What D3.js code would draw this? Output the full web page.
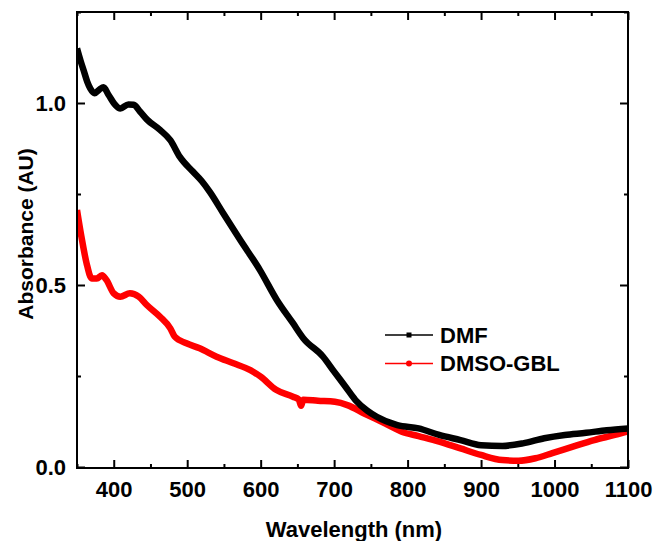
<!DOCTYPE html>
<html>
<head>
<meta charset="utf-8">
<script src="https://cdn.jsdelivr.net/npm/d3@7"></script>
<style>
  html, body { margin: 0; padding: 0; background: #fff; }
  svg { display: block; }
  text { font-family: "Liberation Sans", Arial, sans-serif; font-weight: bold; fill: #000; }
</style>
</head>
<body>
<svg id="chart" width="656" height="541"></svg>
<script>
// Absorption spectra of films cast from two solvents
const dmfWavelength = [350, 355, 359, 364, 368, 374, 381, 386, 393, 402, 409, 420, 427, 436, 445, 463, 477, 490, 508, 520, 531, 549, 572, 599, 622, 644, 658, 685, 700, 715, 729, 745, 758, 786, 815, 843, 872, 900, 929, 957, 986, 1014, 1043, 1071, 1100];
const dmfAbsorbance = [1.150, 1.115, 1.090, 1.058, 1.040, 1.027, 1.038, 1.043, 1.022, 0.995, 0.985, 0.996, 0.995, 0.976, 0.955, 0.926, 0.898, 0.852, 0.811, 0.785, 0.755, 0.697, 0.624, 0.541, 0.459, 0.395, 0.354, 0.303, 0.262, 0.222, 0.184, 0.155, 0.138, 0.115, 0.106, 0.088, 0.074, 0.060, 0.058, 0.065, 0.079, 0.088, 0.094, 0.101, 0.106];

const gblWavelength = [350, 356, 363, 370, 377, 384, 390, 400, 409, 422, 434, 445, 463, 477, 483, 499, 517, 540, 563, 586, 600, 621, 644, 652, 655, 658, 678, 701, 718, 741, 769, 792, 815, 843, 872, 900, 929, 951, 974, 997, 1025, 1054, 1082, 1100];
const gblAbsorbance = [0.706, 0.633, 0.560, 0.518, 0.518, 0.527, 0.514, 0.477, 0.468, 0.477, 0.468, 0.445, 0.413, 0.381, 0.358, 0.340, 0.326, 0.303, 0.285, 0.266, 0.248, 0.212, 0.193, 0.185, 0.168, 0.185, 0.182, 0.179, 0.170, 0.147, 0.120, 0.097, 0.085, 0.070, 0.051, 0.033, 0.019, 0.017, 0.024, 0.038, 0.056, 0.074, 0.088, 0.098];

const seriesNames = ["DMF", "DMSO-GBL"];
const seriesColors = ["#000000", "#ff0000"];

const xMajorTicks = [400, 500, 600, 700, 800, 900, 1000, 1100];
const xMinorTicks = [350, 450, 550, 650, 750, 850, 950, 1050];
const yMajorTicks = [0.0, 0.5, 1.0];
const yMinorTicks = [0.25, 0.75, 1.25];

const xLabel = "Wavelength (nm)";
const yLabel = "Absorbance (AU)";

const plotLeft = 77, plotRight = 628, plotTop = 12, plotBottom = 468;

const svg = d3.select("#chart");
const x = d3.scaleLinear().domain([350, 1100]).range([plotLeft, plotRight]);
const y = d3.scaleLinear().domain([0, 1.25]).range([plotBottom - 1, plotTop]);

svg.append("defs").append("clipPath").attr("id", "plotClip")
  .append("rect").attr("x", plotLeft).attr("y", plotTop)
  .attr("width", plotRight - plotLeft).attr("height", plotBottom - plotTop);

// spectra
const line = d3.line().x(d => x(d[0])).y(d => y(d[1])).curve(d3.curveMonotoneX);
const series = [
  d3.zip(dmfWavelength, dmfAbsorbance),
  d3.zip(gblWavelength, gblAbsorbance)
];
const plot = svg.append("g").attr("clip-path", "url(#plotClip)");
// red drawn first so black sits on top where they meet
[1, 0].forEach(i => {
  plot.append("path")
    .datum(series[i])
    .attr("d", line)
    .attr("fill", "none")
    .attr("stroke", seriesColors[i])
    .attr("stroke-width", 6.5)
    .attr("stroke-linejoin", "round");
});

// axes: ticks point inward on all four sides
function styleAxis(g) {
  g.select(".domain").remove();
  g.selectAll(".tick line").attr("stroke", "#000").attr("stroke-width", 2);
  g.selectAll(".tick text")
    .style("font-size", "22px")
    .style("font-family", "'Liberation Sans', Arial, sans-serif")
    .style("font-weight", "bold");
}
const fmtY = d3.format(".1f");

svg.append("g").attr("transform", `translate(0,${plotBottom})`)
  .call(d3.axisBottom(x).tickValues(xMajorTicks).tickSize(-8).tickPadding(13).tickFormat(d3.format("d")))
  .call(styleAxis);
svg.append("g").attr("transform", `translate(0,${plotBottom})`)
  .call(d3.axisBottom(x).tickValues(xMinorTicks).tickSize(-4).tickFormat(""))
  .call(styleAxis);
svg.append("g").attr("transform", `translate(0,${plotTop})`)
  .call(d3.axisTop(x).tickValues(xMajorTicks).tickSize(-8).tickFormat(""))
  .call(styleAxis);
svg.append("g").attr("transform", `translate(0,${plotTop})`)
  .call(d3.axisTop(x).tickValues(xMinorTicks).tickSize(-4).tickFormat(""))
  .call(styleAxis);

svg.append("g").attr("transform", `translate(${plotLeft},0)`)
  .call(d3.axisLeft(y).tickValues(yMajorTicks).tickSize(-8).tickPadding(11).tickFormat(fmtY))
  .call(styleAxis);
svg.append("g").attr("transform", `translate(${plotLeft},0)`)
  .call(d3.axisLeft(y).tickValues(yMinorTicks).tickSize(-4).tickFormat(""))
  .call(styleAxis);
svg.append("g").attr("transform", `translate(${plotRight},0)`)
  .call(d3.axisRight(y).tickValues(yMajorTicks).tickSize(-8).tickFormat(""))
  .call(styleAxis);
svg.append("g").attr("transform", `translate(${plotRight},0)`)
  .call(d3.axisRight(y).tickValues(yMinorTicks).tickSize(-4).tickFormat(""))
  .call(styleAxis);

// frame
svg.append("rect")
  .attr("x", plotLeft).attr("y", plotTop)
  .attr("width", plotRight - plotLeft).attr("height", plotBottom - plotTop)
  .attr("fill", "none").attr("stroke", "#000").attr("stroke-width", 2);

// axis titles
svg.append("text")
  .attr("x", 354).attr("y", 537)
  .attr("text-anchor", "middle")
  .style("font-size", "22px")
  .text(xLabel);
svg.append("text")
  .attr("transform", "translate(33,234) rotate(-90)")
  .attr("text-anchor", "middle")
  .style("font-size", "21px")
  .text(yLabel);

// legend
const legend = svg.append("g").attr("transform", "translate(385,335)");
seriesNames.forEach((name, i) => {
  const g = legend.append("g").attr("transform", `translate(0,${i * 28.5})`);
  g.append("line").attr("x1", 0).attr("x2", 48).attr("y1", 0).attr("y2", 0)
    .attr("stroke", seriesColors[i]).attr("stroke-width", 1.5);
  if (i === 0) {
    g.append("rect").attr("x", 21.5).attr("y", -2.5).attr("width", 5).attr("height", 5).attr("fill", seriesColors[i]);
  } else {
    g.append("circle").attr("cx", 24).attr("cy", 0).attr("r", 3).attr("fill", seriesColors[i]);
  }
  g.append("text").attr("x", 55).attr("y", 7.5)
    .style("font-size", "22px")
    .text(name);
});
</script>
</body>
</html>
